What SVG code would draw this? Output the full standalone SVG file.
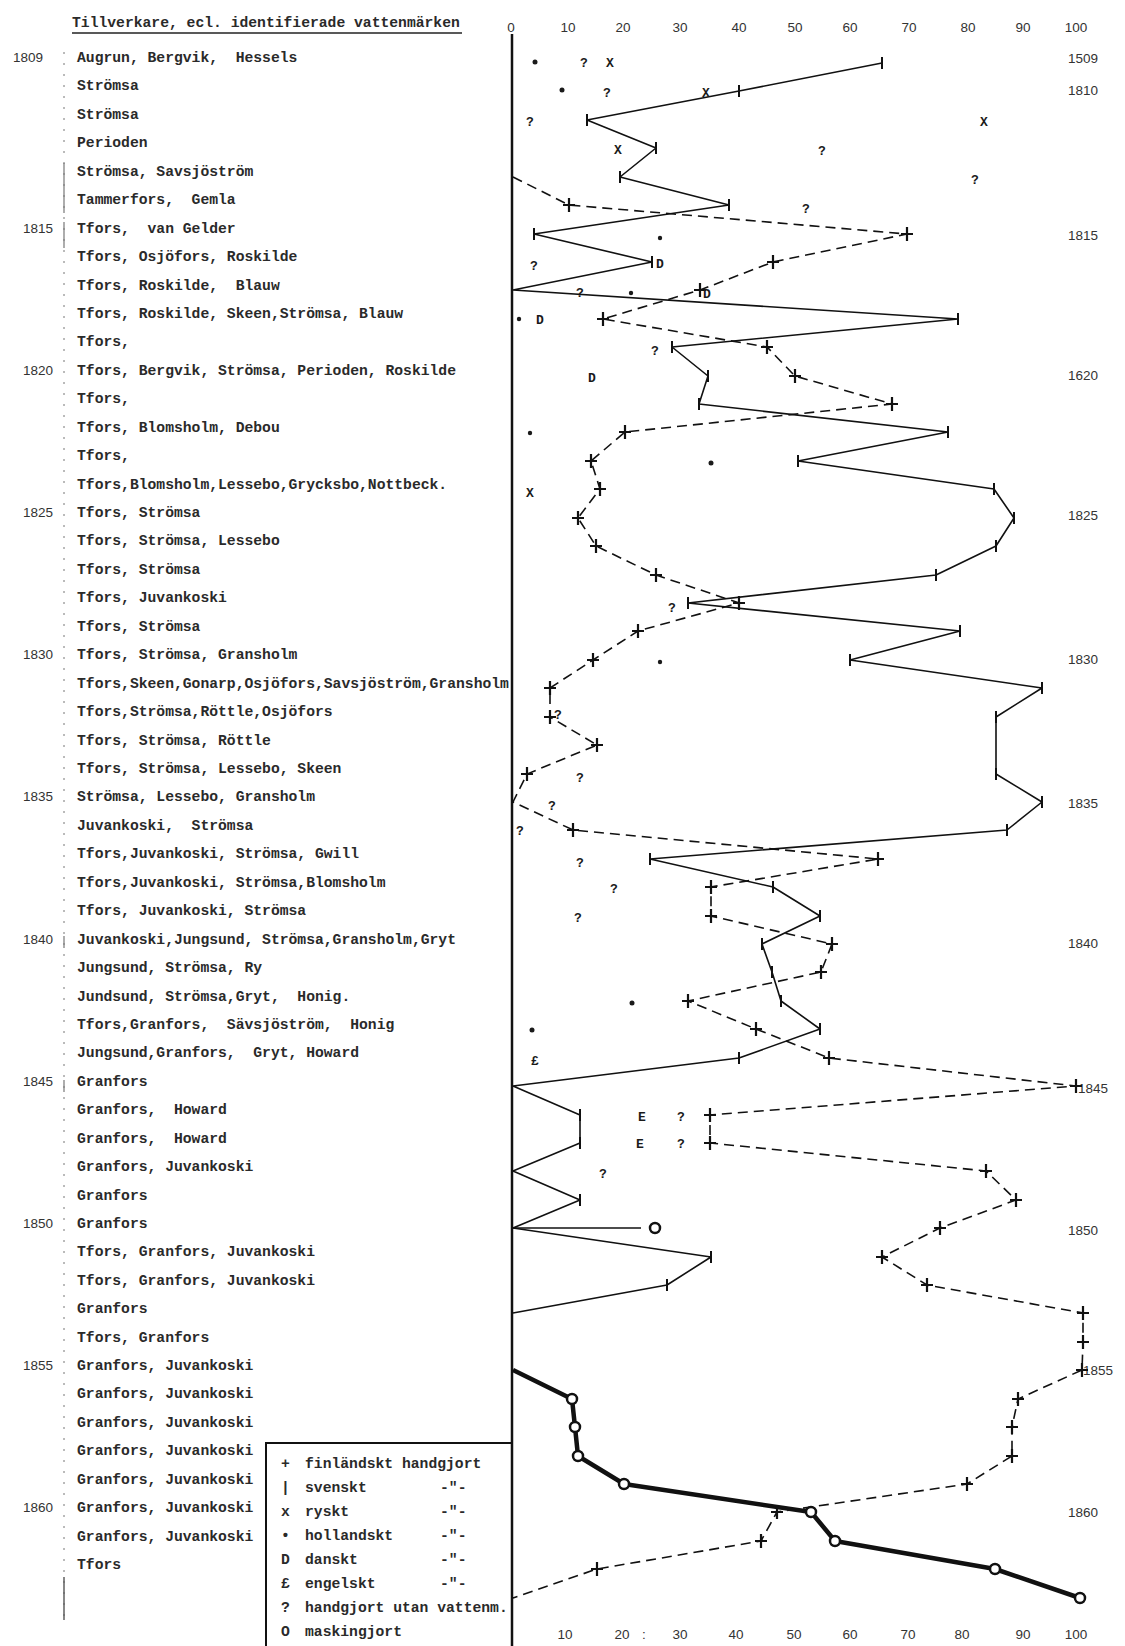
<svg xmlns="http://www.w3.org/2000/svg" xmlns:xlink="http://www.w3.org/1999/xlink" width="1125" height="1646" viewBox="0 0 1125 1646">
<style>
text { white-space: pre; }
.tw { font-family: "Liberation Mono", "DejaVu Sans Mono", monospace; font-weight: bold; font-size: 14.7px; fill: #2a2a2a; }
.yr { font-family: "Liberation Sans", Arial, sans-serif; font-size: 13.5px; fill: #333; }
.ax { font-family: "Liberation Sans", Arial, sans-serif; font-size: 13.5px; fill: #333; text-anchor: middle; }
.mk { font-family: "Liberation Mono", "DejaVu Sans Mono", monospace; font-weight: bold; font-size: 13px; fill: #1a1a1a; text-anchor: middle; }
.solid { fill: none; stroke: #111; stroke-width: 1.6; stroke-linejoin: round; }
.dash { fill: none; stroke: #111; stroke-width: 1.6; stroke-dasharray: 10 6; }
.thick { fill: none; stroke: #111; stroke-width: 4.5; stroke-linejoin: round; }
.circ { fill: #fff; stroke: #111; stroke-width: 2.5; }
.blob { fill: #1a1a1a; }
</style>
<defs>
<path id="cross" d="M-6,0H6M0,-7V7" stroke="#111" stroke-width="2.2"/>
<path id="tick" d="M0,-6V6" stroke="#111" stroke-width="2"/>
</defs>
<rect width="1125" height="1646" fill="#fff"/>

<g id="title">
<text class="tw" x="72" y="27">Tillverkare, ecl. identifierade vattenmärken</text>
<line x1="72" y1="33" x2="462" y2="33" stroke="#222" stroke-width="1.5"/>
</g>

<g id="left-rule" stroke="#777" fill="none">
<line x1="64" y1="52" x2="64" y2="1620" stroke-width="1" stroke-dasharray="2 9"/>
<line x1="64" y1="163" x2="64" y2="213" stroke-width="1.2"/>
<line x1="64" y1="222" x2="64" y2="248" stroke-width="1.2"/>
<line x1="64" y1="936" x2="64" y2="948" stroke-width="1.2"/>
<line x1="64" y1="1080" x2="64" y2="1092" stroke-width="1.2"/>
<line x1="64" y1="1577" x2="64" y2="1620" stroke-width="1.4" stroke="#555"/>
</g>

<g id="years-left" class="yr" text-anchor="end">
<text x="43" y="62">1809</text>
<text x="53" y="233">1815</text>
<text x="53" y="375">1820</text>
<text x="53" y="517">1825</text>
<text x="53" y="659">1830</text>
<text x="53" y="801">1835</text>
<text x="53" y="944">1840</text>
<text x="53" y="1086">1845</text>
<text x="53" y="1228">1850</text>
<text x="53" y="1370">1855</text>
<text x="53" y="1512">1860</text>
</g>

<g id="makers" class="tw">
<text x="77" y="62">Augrun, Bergvik,  Hessels</text>
<text x="77" y="90">Strömsa</text>
<text x="77" y="119">Strömsa</text>
<text x="77" y="147">Perioden</text>
<text x="77" y="176">Strömsa, Savsjöström</text>
<text x="77" y="204">Tammerfors,  Gemla</text>
<text x="77" y="233">Tfors,  van Gelder</text>
<text x="77" y="261">Tfors, Osjöfors, Roskilde</text>
<text x="77" y="290">Tfors, Roskilde,  Blauw</text>
<text x="77" y="318">Tfors, Roskilde, Skeen,Strömsa, Blauw</text>
<text x="77" y="346">Tfors,</text>
<text x="77" y="375">Tfors, Bergvik, Strömsa, Perioden, Roskilde</text>
<text x="77" y="403">Tfors,</text>
<text x="77" y="432">Tfors, Blomsholm, Debou</text>
<text x="77" y="460">Tfors,</text>
<text x="77" y="489">Tfors,Blomsholm,Lessebo,Grycksbo,Nottbeck.</text>
<text x="77" y="517">Tfors, Strömsa</text>
<text x="77" y="545">Tfors, Strömsa, Lessebo</text>
<text x="77" y="574">Tfors, Strömsa</text>
<text x="77" y="602">Tfors, Juvankoski</text>
<text x="77" y="631">Tfors, Strömsa</text>
<text x="77" y="659">Tfors, Strömsa, Gransholm</text>
<text x="77" y="688">Tfors,Skeen,Gonarp,Osjöfors,Savsjöström,Gransholm</text>
<text x="77" y="716">Tfors,Strömsa,Röttle,Osjöfors</text>
<text x="77" y="745">Tfors, Strömsa, Röttle</text>
<text x="77" y="773">Tfors, Strömsa, Lessebo, Skeen</text>
<text x="77" y="801">Strömsa, Lessebo, Gransholm</text>
<text x="77" y="830">Juvankoski,  Strömsa</text>
<text x="77" y="858">Tfors,Juvankoski, Strömsa, Gwill</text>
<text x="77" y="887">Tfors,Juvankoski, Strömsa,Blomsholm</text>
<text x="77" y="915">Tfors, Juvankoski, Strömsa</text>
<text x="77" y="944">Juvankoski,Jungsund, Strömsa,Gransholm,Gryt</text>
<text x="77" y="972">Jungsund, Strömsa, Ry</text>
<text x="77" y="1001">Jundsund, Strömsa,Gryt,  Honig.</text>
<text x="77" y="1029">Tfors,Granfors,  Sävsjöström,  Honig</text>
<text x="77" y="1057">Jungsund,Granfors,  Gryt, Howard</text>
<text x="77" y="1086">Granfors</text>
<text x="77" y="1114">Granfors,  Howard</text>
<text x="77" y="1143">Granfors,  Howard</text>
<text x="77" y="1171">Granfors, Juvankoski</text>
<text x="77" y="1200">Granfors</text>
<text x="77" y="1228">Granfors</text>
<text x="77" y="1256">Tfors, Granfors, Juvankoski</text>
<text x="77" y="1285">Tfors, Granfors, Juvankoski</text>
<text x="77" y="1313">Granfors</text>
<text x="77" y="1342">Tfors, Granfors</text>
<text x="77" y="1370">Granfors, Juvankoski</text>
<text x="77" y="1398">Granfors, Juvankoski</text>
<text x="77" y="1427">Granfors, Juvankoski</text>
<text x="77" y="1455">Granfors, Juvankoski</text>
<text x="77" y="1484">Granfors, Juvankoski</text>
<text x="77" y="1512">Granfors, Juvankoski</text>
<text x="77" y="1541">Granfors, Juvankoski</text>
<text x="77" y="1569">Tfors</text>
</g>

<g id="axis">
<line x1="512" y1="34" x2="512" y2="1646" stroke="#111" stroke-width="2.5"/>
<g class="ax">
<text x="511" y="32">0</text>
<text x="568" y="32">10</text>
<text x="623" y="32">20</text>
<text x="680" y="32">30</text>
<text x="739" y="32">40</text>
<text x="795" y="32">50</text>
<text x="850" y="32">60</text>
<text x="909" y="32">70</text>
<text x="968" y="32">80</text>
<text x="1023" y="32">90</text>
<text x="1076" y="32">100</text>
<text x="565" y="1639">10</text>
<text x="622" y="1639">20</text>
<text x="644" y="1639">:</text>
<text x="680" y="1639">30</text>
<text x="736" y="1639">40</text>
<text x="794" y="1639">50</text>
<text x="850" y="1639">60</text>
<text x="908" y="1639">70</text>
<text x="962" y="1639">80</text>
<text x="1023" y="1639">90</text>
<text x="1076" y="1639">100</text>
</g>
</g>

<g id="years-right" class="ax">
<text x="1083" y="63">1509</text>
<text x="1083" y="95">1810</text>
<text x="1083" y="240">1815</text>
<text x="1083" y="380">1620</text>
<text x="1083" y="520">1825</text>
<text x="1083" y="664">1830</text>
<text x="1083" y="808">1835</text>
<text x="1083" y="948">1840</text>
<text x="1093" y="1093">1845</text>
<text x="1083" y="1235">1850</text>
<text x="1098" y="1375">1855</text>
<text x="1083" y="1517">1860</text>
</g>

<g id="connectors">
<polyline id="swedish-handmade" class="solid" points="882,63 739,91 587,120 656,148 620,177 729,205 534,234 652,262 513,290 958,319 672,347 708,376 699,404 948,432 798,461 994,489 1014,518 996,546 936,575 688,603 960,631 850,660 1042,688 996,717 996,774 1042,802 1007,830 650,859 773,887 820,916 762,944 772,972 781,1001 820,1029 739,1058 513,1086 580,1115 580,1143 513,1171 580,1200 513,1228 711,1257 667,1285 513,1313"/>
<line class="solid" x1="513" y1="1228" x2="641" y2="1228"/>
<polyline id="finnish-handmade" class="dash" points="513,177 569,205 907,234 773,262 700,290 603,319 767,347 795,376 892,404 625,432 591,461 600,489 578,518 596,546 656,575 739,603 638,631 593,660 550,688 550,717 597,745 527,774 513,802 573,830 878,859 711,887 711,916 832,944 821,972 688,1001 756,1029 829,1058 1076,1086 710,1115 710,1143 986,1171 1016,1200 940,1228 882,1257 927,1285 1083,1313 1083,1342 1082,1370 1018,1399 1012,1427 1012,1456 967,1484 777,1512 761,1541 597,1569 513,1598"/>
<polyline id="machine-made" class="thick" points="513,1370 572,1399 575,1427 578,1456 624,1484 811,1512 835,1541 995,1569 1080,1598"/>
</g>

<g id="ticks-swedish">
<use href="#tick" x="882" y="63"/><use href="#tick" x="739" y="91"/><use href="#tick" x="587" y="120"/><use href="#tick" x="656" y="148"/><use href="#tick" x="620" y="177"/><use href="#tick" x="729" y="205"/><use href="#tick" x="534" y="234"/><use href="#tick" x="652" y="262"/><use href="#tick" x="958" y="319"/><use href="#tick" x="672" y="347"/><use href="#tick" x="708" y="376"/><use href="#tick" x="699" y="404"/><use href="#tick" x="948" y="432"/><use href="#tick" x="798" y="461"/><use href="#tick" x="994" y="489"/><use href="#tick" x="1014" y="518"/><use href="#tick" x="996" y="546"/><use href="#tick" x="936" y="575"/><use href="#tick" x="688" y="603"/><use href="#tick" x="960" y="631"/><use href="#tick" x="850" y="660"/><use href="#tick" x="1042" y="688"/><use href="#tick" x="996" y="717"/><use href="#tick" x="996" y="774"/><use href="#tick" x="1042" y="802"/><use href="#tick" x="1007" y="830"/><use href="#tick" x="650" y="859"/><use href="#tick" x="773" y="887"/><use href="#tick" x="820" y="916"/><use href="#tick" x="762" y="944"/><use href="#tick" x="772" y="972"/><use href="#tick" x="781" y="1001"/><use href="#tick" x="820" y="1029"/><use href="#tick" x="739" y="1058"/><use href="#tick" x="580" y="1115"/><use href="#tick" x="580" y="1143"/><use href="#tick" x="580" y="1200"/><use href="#tick" x="711" y="1257"/><use href="#tick" x="667" y="1285"/>
</g>

<g id="crosses-finnish">
<use href="#cross" x="569" y="205"/><use href="#cross" x="907" y="234"/><use href="#cross" x="773" y="262"/><use href="#cross" x="700" y="290"/><use href="#cross" x="603" y="319"/><use href="#cross" x="767" y="347"/><use href="#cross" x="795" y="376"/><use href="#cross" x="892" y="404"/><use href="#cross" x="625" y="432"/><use href="#cross" x="591" y="461"/><use href="#cross" x="600" y="489"/><use href="#cross" x="578" y="518"/><use href="#cross" x="596" y="546"/><use href="#cross" x="656" y="575"/><use href="#cross" x="739" y="603"/><use href="#cross" x="638" y="631"/><use href="#cross" x="593" y="660"/><use href="#cross" x="550" y="688"/><use href="#cross" x="550" y="717"/><use href="#cross" x="597" y="745"/><use href="#cross" x="527" y="774"/><use href="#cross" x="573" y="830"/><use href="#cross" x="878" y="859"/><use href="#cross" x="711" y="887"/><use href="#cross" x="711" y="916"/><use href="#cross" x="832" y="944"/><use href="#cross" x="821" y="972"/><use href="#cross" x="688" y="1001"/><use href="#cross" x="756" y="1029"/><use href="#cross" x="829" y="1058"/><use href="#cross" x="1076" y="1086"/><use href="#cross" x="710" y="1115"/><use href="#cross" x="710" y="1143"/><use href="#cross" x="986" y="1171"/><use href="#cross" x="1016" y="1200"/><use href="#cross" x="940" y="1228"/><use href="#cross" x="882" y="1257"/><use href="#cross" x="927" y="1285"/><use href="#cross" x="1083" y="1313"/><use href="#cross" x="1083" y="1342"/><use href="#cross" x="1082" y="1370"/><use href="#cross" x="1018" y="1399"/><use href="#cross" x="1012" y="1427"/><use href="#cross" x="1012" y="1456"/><use href="#cross" x="967" y="1484"/><use href="#cross" x="777" y="1512"/><use href="#cross" x="761" y="1541"/><use href="#cross" x="597" y="1569"/>
</g>

<g id="circles-machine">
<circle class="circ" cx="655" cy="1228" r="5"/>
<circle class="circ" cx="572" cy="1399" r="5"/>
<circle class="circ" cx="575" cy="1427" r="5"/>
<circle class="circ" cx="578" cy="1456" r="5"/>
<circle class="circ" cx="624" cy="1484" r="5"/>
<circle class="circ" cx="811" cy="1512" r="5"/>
<circle class="circ" cx="835" cy="1541" r="5"/>
<circle class="circ" cx="995" cy="1569" r="5"/>
<circle class="circ" cx="1080" cy="1598" r="5"/>
</g>

<g id="single-marks">
<circle class="blob" cx="535" cy="62" r="2.5"/>
<circle class="blob" cx="562" cy="90" r="2.5"/>
<circle class="blob" cx="660" cy="238" r="2.2"/>
<circle class="blob" cx="631" cy="293" r="2.2"/>
<circle class="blob" cx="519" cy="319" r="2.2"/>
<circle class="blob" cx="530" cy="433" r="2.2"/>
<circle class="blob" cx="711" cy="463" r="2.5"/>
<circle class="blob" cx="660" cy="662" r="2.2"/>
<circle class="blob" cx="632" cy="1003" r="2.5"/>
<circle class="blob" cx="532" cy="1030" r="2.5"/>
<g class="mk">
<text x="584" y="67">?</text>
<text x="610" y="67">X</text>
<text x="607" y="97">?</text>
<text x="706" y="97">X</text>
<text x="530" y="126">?</text>
<text x="984" y="126">X</text>
<text x="618" y="154">X</text>
<text x="822" y="155">?</text>
<text x="975" y="184">?</text>
<text x="806" y="213">?</text>
<text x="534" y="270">?</text>
<text x="660" y="268">D</text>
<text x="580" y="297">?</text>
<text x="707" y="298">D</text>
<text x="540" y="324">D</text>
<text x="655" y="355">?</text>
<text x="592" y="382">D</text>
<text x="530" y="497">X</text>
<text x="672" y="612">?</text>
<text x="558" y="719">?</text>
<text x="580" y="782">?</text>
<text x="552" y="810">?</text>
<text x="520" y="835">?</text>
<text x="580" y="867">?</text>
<text x="614" y="893">?</text>
<text x="578" y="922">?</text>
<text x="535" y="1065">£</text>
<text x="642" y="1121">E</text>
<text x="681" y="1121">?</text>
<text x="640" y="1148">E</text>
<text x="681" y="1148">?</text>
<text x="603" y="1178">?</text>
</g>
</g>

<g id="legend">
<path d="M266,1646V1443H512" fill="none" stroke="#111" stroke-width="2"/>
<g class="tw">
<text x="281" y="1468">+</text><text x="305" y="1468">finländskt handgjort</text>
<text x="281" y="1492">|</text><text x="305" y="1492">svenskt</text><text x="440" y="1492">-"-</text>
<text x="281" y="1516">x</text><text x="305" y="1516">ryskt</text><text x="440" y="1516">-"-</text>
<text x="281" y="1540">•</text><text x="305" y="1540">hollandskt</text><text x="440" y="1540">-"-</text>
<text x="281" y="1564">D</text><text x="305" y="1564">danskt</text><text x="440" y="1564">-"-</text>
<text x="281" y="1588">£</text><text x="305" y="1588">engelskt</text><text x="440" y="1588">-"-</text>
<text x="281" y="1612">?</text><text x="305" y="1612">handgjort utan vattenm.</text>
<text x="281" y="1636">O</text><text x="305" y="1636">maskingjort</text>
</g>
</g>
</svg>
